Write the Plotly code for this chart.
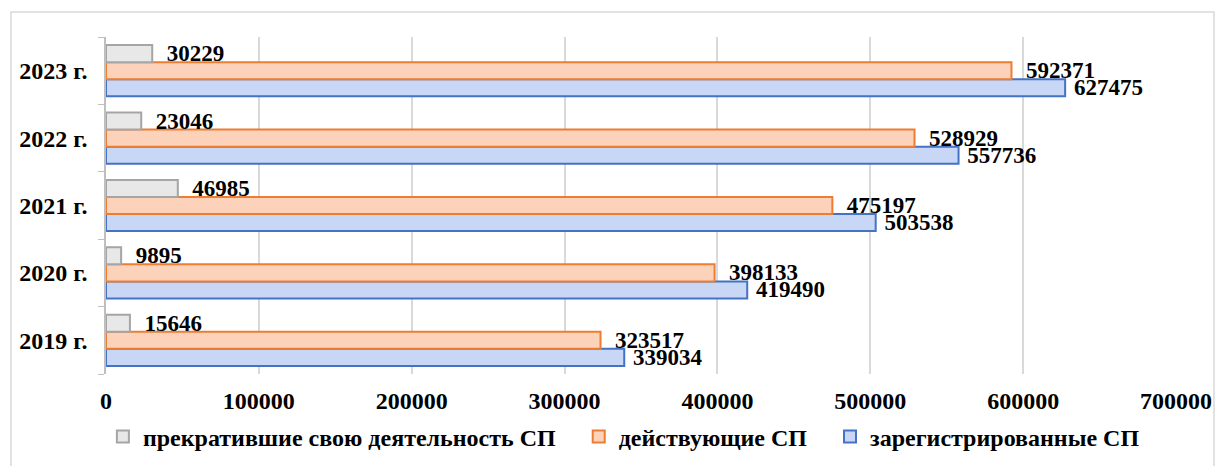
import plotly.graph_objects as go

years = ["2019 г.", "2020 г.", "2021 г.", "2022 г.", "2023 г."]
registered = [339034, 419490, 503538, 557736, 627475]
active = [323517, 398133, 475197, 528929, 592371]
ceased = [15646, 9895, 46985, 23046, 30229]
x_ticks = [0, 100000, 200000, 300000, 400000, 500000, 600000, 700000]

FONT = "Liberation Serif"
label_font = dict(family=FONT, size=23, color="black")
NB = "\u00a0"

fig = go.Figure()
series = [
    ("зарегистрированные СП", registered, "#c8d7f6", "#4472c4", " ", ""),
    ("действующие СП", active, "#fcd2bb", "#ed7d31", "  ", NB * 3),
    ("прекратившие свою деятельность СП", ceased, "#e8e8e8", "#a5a5a5", "  ", NB * 3),
]
for name, vals, fill, line, pad, tail in series:
    fig.add_trace(go.Bar(
        name=f"<b>{name}</b>{tail}", y=years, x=vals, orientation="h",
        marker=dict(color=fill, line=dict(color=line, width=2)),
        text=[str(v) for v in vals], texttemplate=pad + "<b>%{text}</b>",
        textposition="outside", textfont=label_font,
        constraintext="none", cliponaxis=False,
    ))

fig.update_layout(
    width=1219, height=466,
    barmode="group", bargap=0.24, bargroupgap=0,
    plot_bgcolor="white", paper_bgcolor="white",
    margin=dict(l=106, r=43, t=37, b=92, autoexpand=False),
    font=dict(family=FONT, size=24, color="black"),
    xaxis=dict(
        range=[0, 700000], tickvals=x_ticks,
        ticktext=[f"<b>{v}</b>" for v in x_ticks],
        showgrid=True, gridcolor="#d9d9d9", gridwidth=1.5,
        zeroline=False, showline=False, ticks="",
        ticklabelstandoff=10, automargin=False,
        tickfont=dict(family=FONT, size=24),
    ),
    yaxis=dict(
        categoryorder="array", categoryarray=years,
        tickvals=years, ticktext=[f"<b>{y}</b>" for y in years],
        showline=True, linecolor="#bfbfbf", linewidth=1.5,
        ticks="outside", tickson="boundaries", ticklen=6, tickcolor="#bfbfbf",
        showgrid=False, ticklabelstandoff=12, automargin=False,
        tickfont=dict(family=FONT, size=24),
    ),
    legend=dict(
        orientation="h", traceorder="reversed",
        x=0.484, xanchor="center", y=-0.187, yanchor="middle",
        font=dict(family=FONT, size=24), itemwidth=30,
    ),
    shapes=[dict(type="rect", xref="paper", yref="paper",
                 x0=-0.0888, x1=1.0355, y0=-0.28, y1=1.074,
                 line=dict(color="#d9d9d9", width=1.5), layer="below")],
)
fig.write_html("out.html", config={"displayModeBar": False},
               post_script="document.body.style.margin='0';")
